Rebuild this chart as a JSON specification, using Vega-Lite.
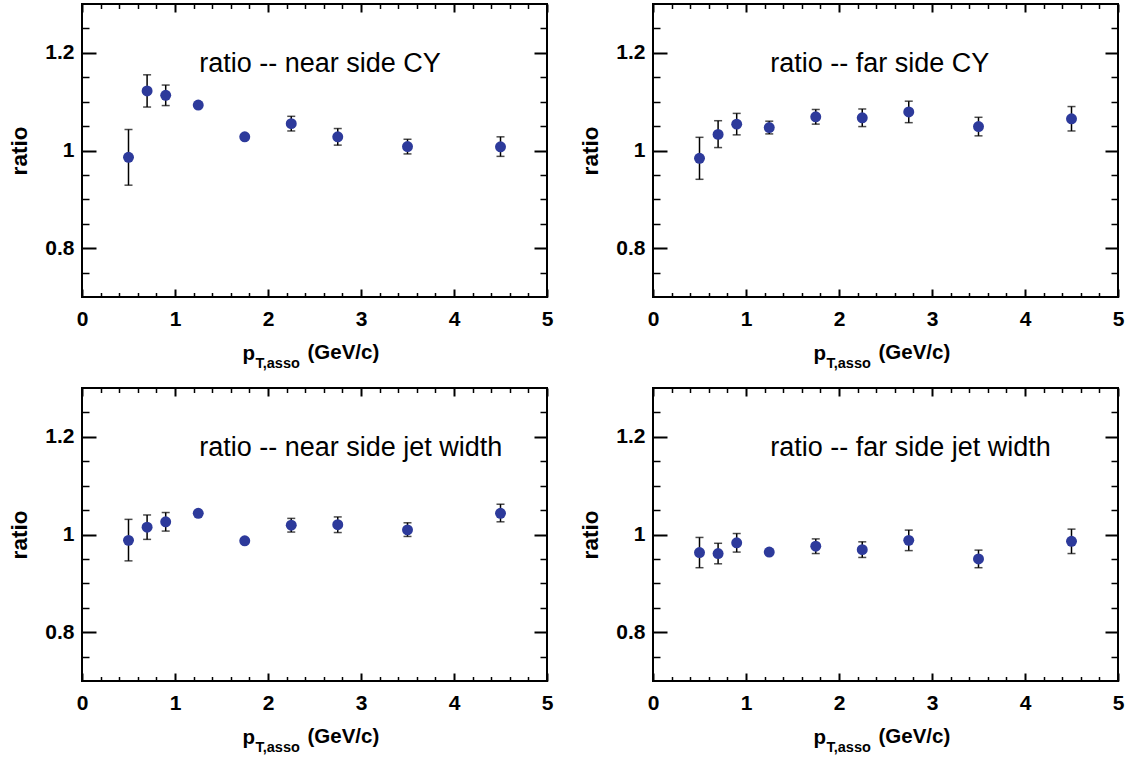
{
  "$schema": "https://vega.github.io/schema/vega-lite/v6.json",
  "background": "white",
  "padding": {"left": 7, "top": 2, "right": 5, "bottom": 5},
  "data": {"values": [
    {"panel": "nearCY", "pt": 0.5, "ratio": 0.986, "lo": 0.929, "hi": 1.043},
    {"panel": "nearCY", "pt": 0.7, "ratio": 1.122, "lo": 1.089, "hi": 1.155},
    {"panel": "nearCY", "pt": 0.9, "ratio": 1.113, "lo": 1.092, "hi": 1.134},
    {"panel": "nearCY", "pt": 1.25, "ratio": 1.093, "lo": 1.089, "hi": 1.097},
    {"panel": "nearCY", "pt": 1.75, "ratio": 1.028, "lo": 1.024, "hi": 1.032},
    {"panel": "nearCY", "pt": 2.25, "ratio": 1.055, "lo": 1.040, "hi": 1.070},
    {"panel": "nearCY", "pt": 2.75, "ratio": 1.028, "lo": 1.011, "hi": 1.045},
    {"panel": "nearCY", "pt": 3.5, "ratio": 1.008, "lo": 0.993, "hi": 1.023},
    {"panel": "nearCY", "pt": 4.5, "ratio": 1.0075, "lo": 0.988, "hi": 1.028},
    {"panel": "farCY", "pt": 0.5, "ratio": 0.984, "lo": 0.941, "hi": 1.027},
    {"panel": "farCY", "pt": 0.7, "ratio": 1.033, "lo": 1.006, "hi": 1.061},
    {"panel": "farCY", "pt": 0.9, "ratio": 1.054, "lo": 1.032, "hi": 1.076},
    {"panel": "farCY", "pt": 1.25, "ratio": 1.047, "lo": 1.034, "hi": 1.060},
    {"panel": "farCY", "pt": 1.75, "ratio": 1.069, "lo": 1.054, "hi": 1.084},
    {"panel": "farCY", "pt": 2.25, "ratio": 1.067, "lo": 1.049, "hi": 1.085},
    {"panel": "farCY", "pt": 2.75, "ratio": 1.079, "lo": 1.057, "hi": 1.101},
    {"panel": "farCY", "pt": 3.5, "ratio": 1.049, "lo": 1.030, "hi": 1.068},
    {"panel": "farCY", "pt": 4.5, "ratio": 1.065, "lo": 1.040, "hi": 1.090},
    {"panel": "nearJW", "pt": 0.5, "ratio": 0.988, "lo": 0.946, "hi": 1.031},
    {"panel": "nearJW", "pt": 0.7, "ratio": 1.015, "lo": 0.990, "hi": 1.040},
    {"panel": "nearJW", "pt": 0.9, "ratio": 1.026, "lo": 1.007, "hi": 1.045},
    {"panel": "nearJW", "pt": 1.25, "ratio": 1.0435, "lo": 1.040, "hi": 1.047},
    {"panel": "nearJW", "pt": 1.75, "ratio": 0.987, "lo": 0.983, "hi": 0.991},
    {"panel": "nearJW", "pt": 2.25, "ratio": 1.019, "lo": 1.005, "hi": 1.033},
    {"panel": "nearJW", "pt": 2.75, "ratio": 1.020, "lo": 1.004, "hi": 1.036},
    {"panel": "nearJW", "pt": 3.5, "ratio": 1.0095, "lo": 0.996, "hi": 1.024},
    {"panel": "nearJW", "pt": 4.5, "ratio": 1.0435, "lo": 1.026, "hi": 1.062},
    {"panel": "farJW", "pt": 0.5, "ratio": 0.963, "lo": 0.932, "hi": 0.994},
    {"panel": "farJW", "pt": 0.7, "ratio": 0.961, "lo": 0.940, "hi": 0.982},
    {"panel": "farJW", "pt": 0.9, "ratio": 0.983, "lo": 0.964, "hi": 1.002},
    {"panel": "farJW", "pt": 1.25, "ratio": 0.964, "lo": 0.960, "hi": 0.968},
    {"panel": "farJW", "pt": 1.75, "ratio": 0.976, "lo": 0.961, "hi": 0.991},
    {"panel": "farJW", "pt": 2.25, "ratio": 0.969, "lo": 0.953, "hi": 0.985},
    {"panel": "farJW", "pt": 2.75, "ratio": 0.988, "lo": 0.967, "hi": 1.009},
    {"panel": "farJW", "pt": 3.5, "ratio": 0.950, "lo": 0.932, "hi": 0.968},
    {"panel": "farJW", "pt": 4.5, "ratio": 0.986, "lo": 0.961, "hi": 1.011}
  ]},
  "columns": 2,
  "spacing": {"row": 91, "column": 106},
  "bounds": "flush",
  "concat": [
    {
      "width": 465, "height": 293,
      "layer": [
        {"transform": [{"filter": "datum.panel == 'nearCY'"}],
         "mark": {"type": "rule", "color": "black", "strokeWidth": 1.5},
         "encoding": {
           "x": {"field": "pt", "type": "quantitative", "scale": {"domain": [0, 5], "nice": false, "zero": false},
                 "axis": {"orient": "bottom", "values": [0,0.2,0.4,0.6,0.8,1,1.2,1.4,1.6,1.8,2,2.2,2.4,2.6,2.8,3,3.2,3.4,3.6,3.8,4,4.2,4.4,4.6,4.8,5],
                   "tickSize": {"condition": {"test": "abs(datum.value - round(datum.value)) < 0.01", "value": -8}, "value": -4.5},
                   "tickWidth": {"condition": {"test": "abs(datum.value - round(datum.value)) < 0.01", "value": 2}, "value": 1.5},
                   "labelExpr": "abs(datum.value - round(datum.value)) < 0.01 ? format(datum.value, '~g') : ''",
                   "labelPadding": 19, "labelFontSize": 21,
                   "title": "p", "titleFontSize": 20.5,
                   "titleX": 160, "titleY": 62, "titleAlign": "left", "titleBaseline": "alphabetic"}},
           "y": {"field": "lo", "type": "quantitative", "scale": {"domain": [0.7, 1.3], "nice": false, "zero": false},
                 "axis": {"orient": "left", "values": [0.75,0.8,0.85,0.9,0.95,1,1.05,1.1,1.15,1.2,1.25],
                   "tickSize": {"condition": {"test": "abs(datum.value*5 - round(datum.value*5)) < 0.01", "value": -14}, "value": -7},
                   "tickWidth": {"condition": {"test": "abs(datum.value*5 - round(datum.value*5)) < 0.01", "value": 2}, "value": 1.5},
                   "labelExpr": "abs(datum.value*5 - round(datum.value*5)) < 0.01 ? format(datum.value, '~g') : ''",
                   "labelPadding": 22, "labelFontSize": 21,
                   "title": "ratio", "titleFontSize": 22.5, "titleAngle": 270, "titleX": -63, "titleY": 146.5,
                   "titleAlign": "center", "titleBaseline": "middle"}},
           "y2": {"field": "hi"}
         }},
        {"transform": [{"filter": "datum.panel == 'nearCY'"}],
         "mark": {"type": "tick", "orient": "horizontal", "size": 8, "thickness": 1.5, "color": "black"},
         "encoding": {"x": {"field": "pt", "type": "quantitative", "axis": null}, "y": {"field": "lo", "type": "quantitative", "axis": null}}},
        {"transform": [{"filter": "datum.panel == 'nearCY'"}],
         "mark": {"type": "tick", "orient": "horizontal", "size": 8, "thickness": 1.5, "color": "black"},
         "encoding": {"x": {"field": "pt", "type": "quantitative", "axis": null}, "y": {"field": "hi", "type": "quantitative", "axis": null}}},
        {"transform": [{"filter": "datum.panel == 'nearCY'"}],
         "mark": {"type": "point", "filled": true, "shape": "circle", "size": 120, "color": "#2d3a9b", "opacity": 1},
         "encoding": {
           "x": {"field": "pt", "type": "quantitative",
                 "axis": {"orient": "top", "values": [0,0.2,0.4,0.6,0.8,1,1.2,1.4,1.6,1.8,2,2.2,2.4,2.6,2.8,3,3.2,3.4,3.6,3.8,4,4.2,4.4,4.6,4.8,5],
                   "tickSize": {"condition": {"test": "abs(datum.value - round(datum.value)) < 0.01", "value": -8}, "value": -4.5},
                   "tickWidth": {"condition": {"test": "abs(datum.value - round(datum.value)) < 0.01", "value": 2}, "value": 1.5},
                   "labels": false, "title": "T,asso", "titleFontSize": 14.5,
                   "titleX": 173, "titleY": 363.3, "titleAlign": "left", "titleBaseline": "alphabetic"}},
           "y": {"field": "ratio", "type": "quantitative",
                 "axis": {"orient": "right", "values": [0.75,0.8,0.85,0.9,0.95,1,1.05,1.1,1.15,1.2,1.25],
                   "tickSize": {"condition": {"test": "abs(datum.value*5 - round(datum.value*5)) < 0.01", "value": -13}, "value": -7},
                   "tickWidth": {"condition": {"test": "abs(datum.value*5 - round(datum.value*5)) < 0.01", "value": 2}, "value": 1.5},
                   "labels": false, "title": "(GeV/c)", "titleFontSize": 20.5, "titleAngle": 0,
                   "titleX": -240, "titleY": 354.7, "titleAlign": "left", "titleBaseline": "alphabetic"}}
         }},
        {"data": {"values": [{"t": "ratio -- near side CY", "lx": 1.26, "ly": 1.16}]},
         "mark": {"type": "text", "align": "left", "baseline": "alphabetic", "fontSize": 27, "font": "Liberation Sans", "color": "black"},
         "encoding": {"x": {"field": "lx", "type": "quantitative", "axis": null}, "y": {"field": "ly", "type": "quantitative", "axis": null}, "text": {"field": "t"}}}
      ],
      "resolve": {"axis": {"x": "independent", "y": "independent"}}
    },
    {
      "width": 465, "height": 293,
      "layer": [
        {"transform": [{"filter": "datum.panel == 'farCY'"}],
         "mark": {"type": "rule", "color": "black", "strokeWidth": 1.5},
         "encoding": {
           "x": {"field": "pt", "type": "quantitative", "scale": {"domain": [0, 5], "nice": false, "zero": false},
                 "axis": {"orient": "bottom", "values": [0,0.2,0.4,0.6,0.8,1,1.2,1.4,1.6,1.8,2,2.2,2.4,2.6,2.8,3,3.2,3.4,3.6,3.8,4,4.2,4.4,4.6,4.8,5],
                   "tickSize": {"condition": {"test": "abs(datum.value - round(datum.value)) < 0.01", "value": -8}, "value": -4.5},
                   "tickWidth": {"condition": {"test": "abs(datum.value - round(datum.value)) < 0.01", "value": 2}, "value": 1.5},
                   "labelExpr": "abs(datum.value - round(datum.value)) < 0.01 ? format(datum.value, '~g') : ''",
                   "labelPadding": 19, "labelFontSize": 21,
                   "title": "p", "titleFontSize": 20.5,
                   "titleX": 160, "titleY": 62, "titleAlign": "left", "titleBaseline": "alphabetic"}},
           "y": {"field": "lo", "type": "quantitative", "scale": {"domain": [0.7, 1.3], "nice": false, "zero": false},
                 "axis": {"orient": "left", "values": [0.75,0.8,0.85,0.9,0.95,1,1.05,1.1,1.15,1.2,1.25],
                   "tickSize": {"condition": {"test": "abs(datum.value*5 - round(datum.value*5)) < 0.01", "value": -14}, "value": -7},
                   "tickWidth": {"condition": {"test": "abs(datum.value*5 - round(datum.value*5)) < 0.01", "value": 2}, "value": 1.5},
                   "labelExpr": "abs(datum.value*5 - round(datum.value*5)) < 0.01 ? format(datum.value, '~g') : ''",
                   "labelPadding": 22, "labelFontSize": 21,
                   "title": "ratio", "titleFontSize": 22.5, "titleAngle": 270, "titleX": -63, "titleY": 146.5,
                   "titleAlign": "center", "titleBaseline": "middle"}},
           "y2": {"field": "hi"}
         }},
        {"transform": [{"filter": "datum.panel == 'farCY'"}],
         "mark": {"type": "tick", "orient": "horizontal", "size": 8, "thickness": 1.5, "color": "black"},
         "encoding": {"x": {"field": "pt", "type": "quantitative", "axis": null}, "y": {"field": "lo", "type": "quantitative", "axis": null}}},
        {"transform": [{"filter": "datum.panel == 'farCY'"}],
         "mark": {"type": "tick", "orient": "horizontal", "size": 8, "thickness": 1.5, "color": "black"},
         "encoding": {"x": {"field": "pt", "type": "quantitative", "axis": null}, "y": {"field": "hi", "type": "quantitative", "axis": null}}},
        {"transform": [{"filter": "datum.panel == 'farCY'"}],
         "mark": {"type": "point", "filled": true, "shape": "circle", "size": 120, "color": "#2d3a9b", "opacity": 1},
         "encoding": {
           "x": {"field": "pt", "type": "quantitative",
                 "axis": {"orient": "top", "values": [0,0.2,0.4,0.6,0.8,1,1.2,1.4,1.6,1.8,2,2.2,2.4,2.6,2.8,3,3.2,3.4,3.6,3.8,4,4.2,4.4,4.6,4.8,5],
                   "tickSize": {"condition": {"test": "abs(datum.value - round(datum.value)) < 0.01", "value": -8}, "value": -4.5},
                   "tickWidth": {"condition": {"test": "abs(datum.value - round(datum.value)) < 0.01", "value": 2}, "value": 1.5},
                   "labels": false, "title": "T,asso", "titleFontSize": 14.5,
                   "titleX": 173, "titleY": 363.3, "titleAlign": "left", "titleBaseline": "alphabetic"}},
           "y": {"field": "ratio", "type": "quantitative",
                 "axis": {"orient": "right", "values": [0.75,0.8,0.85,0.9,0.95,1,1.05,1.1,1.15,1.2,1.25],
                   "tickSize": {"condition": {"test": "abs(datum.value*5 - round(datum.value*5)) < 0.01", "value": -13}, "value": -7},
                   "tickWidth": {"condition": {"test": "abs(datum.value*5 - round(datum.value*5)) < 0.01", "value": 2}, "value": 1.5},
                   "labels": false, "title": "(GeV/c)", "titleFontSize": 20.5, "titleAngle": 0,
                   "titleX": -240, "titleY": 354.7, "titleAlign": "left", "titleBaseline": "alphabetic"}}
         }},
        {"data": {"values": [{"t": "ratio -- far side CY", "lx": 1.26, "ly": 1.16}]},
         "mark": {"type": "text", "align": "left", "baseline": "alphabetic", "fontSize": 27, "font": "Liberation Sans", "color": "black"},
         "encoding": {"x": {"field": "lx", "type": "quantitative", "axis": null}, "y": {"field": "ly", "type": "quantitative", "axis": null}, "text": {"field": "t"}}}
      ],
      "resolve": {"axis": {"x": "independent", "y": "independent"}}
    },
    {
      "width": 465, "height": 293,
      "layer": [
        {"transform": [{"filter": "datum.panel == 'nearJW'"}],
         "mark": {"type": "rule", "color": "black", "strokeWidth": 1.5},
         "encoding": {
           "x": {"field": "pt", "type": "quantitative", "scale": {"domain": [0, 5], "nice": false, "zero": false},
                 "axis": {"orient": "bottom", "values": [0,0.2,0.4,0.6,0.8,1,1.2,1.4,1.6,1.8,2,2.2,2.4,2.6,2.8,3,3.2,3.4,3.6,3.8,4,4.2,4.4,4.6,4.8,5],
                   "tickSize": {"condition": {"test": "abs(datum.value - round(datum.value)) < 0.01", "value": -8}, "value": -4.5},
                   "tickWidth": {"condition": {"test": "abs(datum.value - round(datum.value)) < 0.01", "value": 2}, "value": 1.5},
                   "labelExpr": "abs(datum.value - round(datum.value)) < 0.01 ? format(datum.value, '~g') : ''",
                   "labelPadding": 19, "labelFontSize": 21,
                   "title": "p", "titleFontSize": 20.5,
                   "titleX": 160, "titleY": 62, "titleAlign": "left", "titleBaseline": "alphabetic"}},
           "y": {"field": "lo", "type": "quantitative", "scale": {"domain": [0.7, 1.3], "nice": false, "zero": false},
                 "axis": {"orient": "left", "values": [0.75,0.8,0.85,0.9,0.95,1,1.05,1.1,1.15,1.2,1.25],
                   "tickSize": {"condition": {"test": "abs(datum.value*5 - round(datum.value*5)) < 0.01", "value": -14}, "value": -7},
                   "tickWidth": {"condition": {"test": "abs(datum.value*5 - round(datum.value*5)) < 0.01", "value": 2}, "value": 1.5},
                   "labelExpr": "abs(datum.value*5 - round(datum.value*5)) < 0.01 ? format(datum.value, '~g') : ''",
                   "labelPadding": 22, "labelFontSize": 21,
                   "title": "ratio", "titleFontSize": 22.5, "titleAngle": 270, "titleX": -63, "titleY": 146.5,
                   "titleAlign": "center", "titleBaseline": "middle"}},
           "y2": {"field": "hi"}
         }},
        {"transform": [{"filter": "datum.panel == 'nearJW'"}],
         "mark": {"type": "tick", "orient": "horizontal", "size": 8, "thickness": 1.5, "color": "black"},
         "encoding": {"x": {"field": "pt", "type": "quantitative", "axis": null}, "y": {"field": "lo", "type": "quantitative", "axis": null}}},
        {"transform": [{"filter": "datum.panel == 'nearJW'"}],
         "mark": {"type": "tick", "orient": "horizontal", "size": 8, "thickness": 1.5, "color": "black"},
         "encoding": {"x": {"field": "pt", "type": "quantitative", "axis": null}, "y": {"field": "hi", "type": "quantitative", "axis": null}}},
        {"transform": [{"filter": "datum.panel == 'nearJW'"}],
         "mark": {"type": "point", "filled": true, "shape": "circle", "size": 120, "color": "#2d3a9b", "opacity": 1},
         "encoding": {
           "x": {"field": "pt", "type": "quantitative",
                 "axis": {"orient": "top", "values": [0,0.2,0.4,0.6,0.8,1,1.2,1.4,1.6,1.8,2,2.2,2.4,2.6,2.8,3,3.2,3.4,3.6,3.8,4,4.2,4.4,4.6,4.8,5],
                   "tickSize": {"condition": {"test": "abs(datum.value - round(datum.value)) < 0.01", "value": -8}, "value": -4.5},
                   "tickWidth": {"condition": {"test": "abs(datum.value - round(datum.value)) < 0.01", "value": 2}, "value": 1.5},
                   "labels": false, "title": "T,asso", "titleFontSize": 14.5,
                   "titleX": 173, "titleY": 363.3, "titleAlign": "left", "titleBaseline": "alphabetic"}},
           "y": {"field": "ratio", "type": "quantitative",
                 "axis": {"orient": "right", "values": [0.75,0.8,0.85,0.9,0.95,1,1.05,1.1,1.15,1.2,1.25],
                   "tickSize": {"condition": {"test": "abs(datum.value*5 - round(datum.value*5)) < 0.01", "value": -13}, "value": -7},
                   "tickWidth": {"condition": {"test": "abs(datum.value*5 - round(datum.value*5)) < 0.01", "value": 2}, "value": 1.5},
                   "labels": false, "title": "(GeV/c)", "titleFontSize": 20.5, "titleAngle": 0,
                   "titleX": -240, "titleY": 354.7, "titleAlign": "left", "titleBaseline": "alphabetic"}}
         }},
        {"data": {"values": [{"t": "ratio -- near side jet width", "lx": 1.26, "ly": 1.16}]},
         "mark": {"type": "text", "align": "left", "baseline": "alphabetic", "fontSize": 27, "font": "Liberation Sans", "color": "black"},
         "encoding": {"x": {"field": "lx", "type": "quantitative", "axis": null}, "y": {"field": "ly", "type": "quantitative", "axis": null}, "text": {"field": "t"}}}
      ],
      "resolve": {"axis": {"x": "independent", "y": "independent"}}
    },
    {
      "width": 465, "height": 293,
      "layer": [
        {"transform": [{"filter": "datum.panel == 'farJW'"}],
         "mark": {"type": "rule", "color": "black", "strokeWidth": 1.5},
         "encoding": {
           "x": {"field": "pt", "type": "quantitative", "scale": {"domain": [0, 5], "nice": false, "zero": false},
                 "axis": {"orient": "bottom", "values": [0,0.2,0.4,0.6,0.8,1,1.2,1.4,1.6,1.8,2,2.2,2.4,2.6,2.8,3,3.2,3.4,3.6,3.8,4,4.2,4.4,4.6,4.8,5],
                   "tickSize": {"condition": {"test": "abs(datum.value - round(datum.value)) < 0.01", "value": -8}, "value": -4.5},
                   "tickWidth": {"condition": {"test": "abs(datum.value - round(datum.value)) < 0.01", "value": 2}, "value": 1.5},
                   "labelExpr": "abs(datum.value - round(datum.value)) < 0.01 ? format(datum.value, '~g') : ''",
                   "labelPadding": 19, "labelFontSize": 21,
                   "title": "p", "titleFontSize": 20.5,
                   "titleX": 160, "titleY": 62, "titleAlign": "left", "titleBaseline": "alphabetic"}},
           "y": {"field": "lo", "type": "quantitative", "scale": {"domain": [0.7, 1.3], "nice": false, "zero": false},
                 "axis": {"orient": "left", "values": [0.75,0.8,0.85,0.9,0.95,1,1.05,1.1,1.15,1.2,1.25],
                   "tickSize": {"condition": {"test": "abs(datum.value*5 - round(datum.value*5)) < 0.01", "value": -14}, "value": -7},
                   "tickWidth": {"condition": {"test": "abs(datum.value*5 - round(datum.value*5)) < 0.01", "value": 2}, "value": 1.5},
                   "labelExpr": "abs(datum.value*5 - round(datum.value*5)) < 0.01 ? format(datum.value, '~g') : ''",
                   "labelPadding": 22, "labelFontSize": 21,
                   "title": "ratio", "titleFontSize": 22.5, "titleAngle": 270, "titleX": -63, "titleY": 146.5,
                   "titleAlign": "center", "titleBaseline": "middle"}},
           "y2": {"field": "hi"}
         }},
        {"transform": [{"filter": "datum.panel == 'farJW'"}],
         "mark": {"type": "tick", "orient": "horizontal", "size": 8, "thickness": 1.5, "color": "black"},
         "encoding": {"x": {"field": "pt", "type": "quantitative", "axis": null}, "y": {"field": "lo", "type": "quantitative", "axis": null}}},
        {"transform": [{"filter": "datum.panel == 'farJW'"}],
         "mark": {"type": "tick", "orient": "horizontal", "size": 8, "thickness": 1.5, "color": "black"},
         "encoding": {"x": {"field": "pt", "type": "quantitative", "axis": null}, "y": {"field": "hi", "type": "quantitative", "axis": null}}},
        {"transform": [{"filter": "datum.panel == 'farJW'"}],
         "mark": {"type": "point", "filled": true, "shape": "circle", "size": 120, "color": "#2d3a9b", "opacity": 1},
         "encoding": {
           "x": {"field": "pt", "type": "quantitative",
                 "axis": {"orient": "top", "values": [0,0.2,0.4,0.6,0.8,1,1.2,1.4,1.6,1.8,2,2.2,2.4,2.6,2.8,3,3.2,3.4,3.6,3.8,4,4.2,4.4,4.6,4.8,5],
                   "tickSize": {"condition": {"test": "abs(datum.value - round(datum.value)) < 0.01", "value": -8}, "value": -4.5},
                   "tickWidth": {"condition": {"test": "abs(datum.value - round(datum.value)) < 0.01", "value": 2}, "value": 1.5},
                   "labels": false, "title": "T,asso", "titleFontSize": 14.5,
                   "titleX": 173, "titleY": 363.3, "titleAlign": "left", "titleBaseline": "alphabetic"}},
           "y": {"field": "ratio", "type": "quantitative",
                 "axis": {"orient": "right", "values": [0.75,0.8,0.85,0.9,0.95,1,1.05,1.1,1.15,1.2,1.25],
                   "tickSize": {"condition": {"test": "abs(datum.value*5 - round(datum.value*5)) < 0.01", "value": -13}, "value": -7},
                   "tickWidth": {"condition": {"test": "abs(datum.value*5 - round(datum.value*5)) < 0.01", "value": 2}, "value": 1.5},
                   "labels": false, "title": "(GeV/c)", "titleFontSize": 20.5, "titleAngle": 0,
                   "titleX": -240, "titleY": 354.7, "titleAlign": "left", "titleBaseline": "alphabetic"}}
         }},
        {"data": {"values": [{"t": "ratio -- far side jet width", "lx": 1.26, "ly": 1.16}]},
         "mark": {"type": "text", "align": "left", "baseline": "alphabetic", "fontSize": 27, "font": "Liberation Sans", "color": "black"},
         "encoding": {"x": {"field": "lx", "type": "quantitative", "axis": null}, "y": {"field": "ly", "type": "quantitative", "axis": null}, "text": {"field": "t"}}}
      ],
      "resolve": {"axis": {"x": "independent", "y": "independent"}}
    }
  ],
  "config": {
    "font": "Liberation Sans",
    "view": {"stroke": "black", "strokeWidth": 2},
    "axis": {
      "domain": false, "grid": false,
      "tickColor": "black", "tickOpacity": 1,
      "labelFont": "Liberation Sans", "labelFontWeight": "bold", "labelColor": "black",
      "labelOverlap": false, "labelFlush": false, "labelBound": false,
      "titleFont": "Liberation Sans", "titleFontWeight": "bold", "titleColor": "black"
    }
  }
}
